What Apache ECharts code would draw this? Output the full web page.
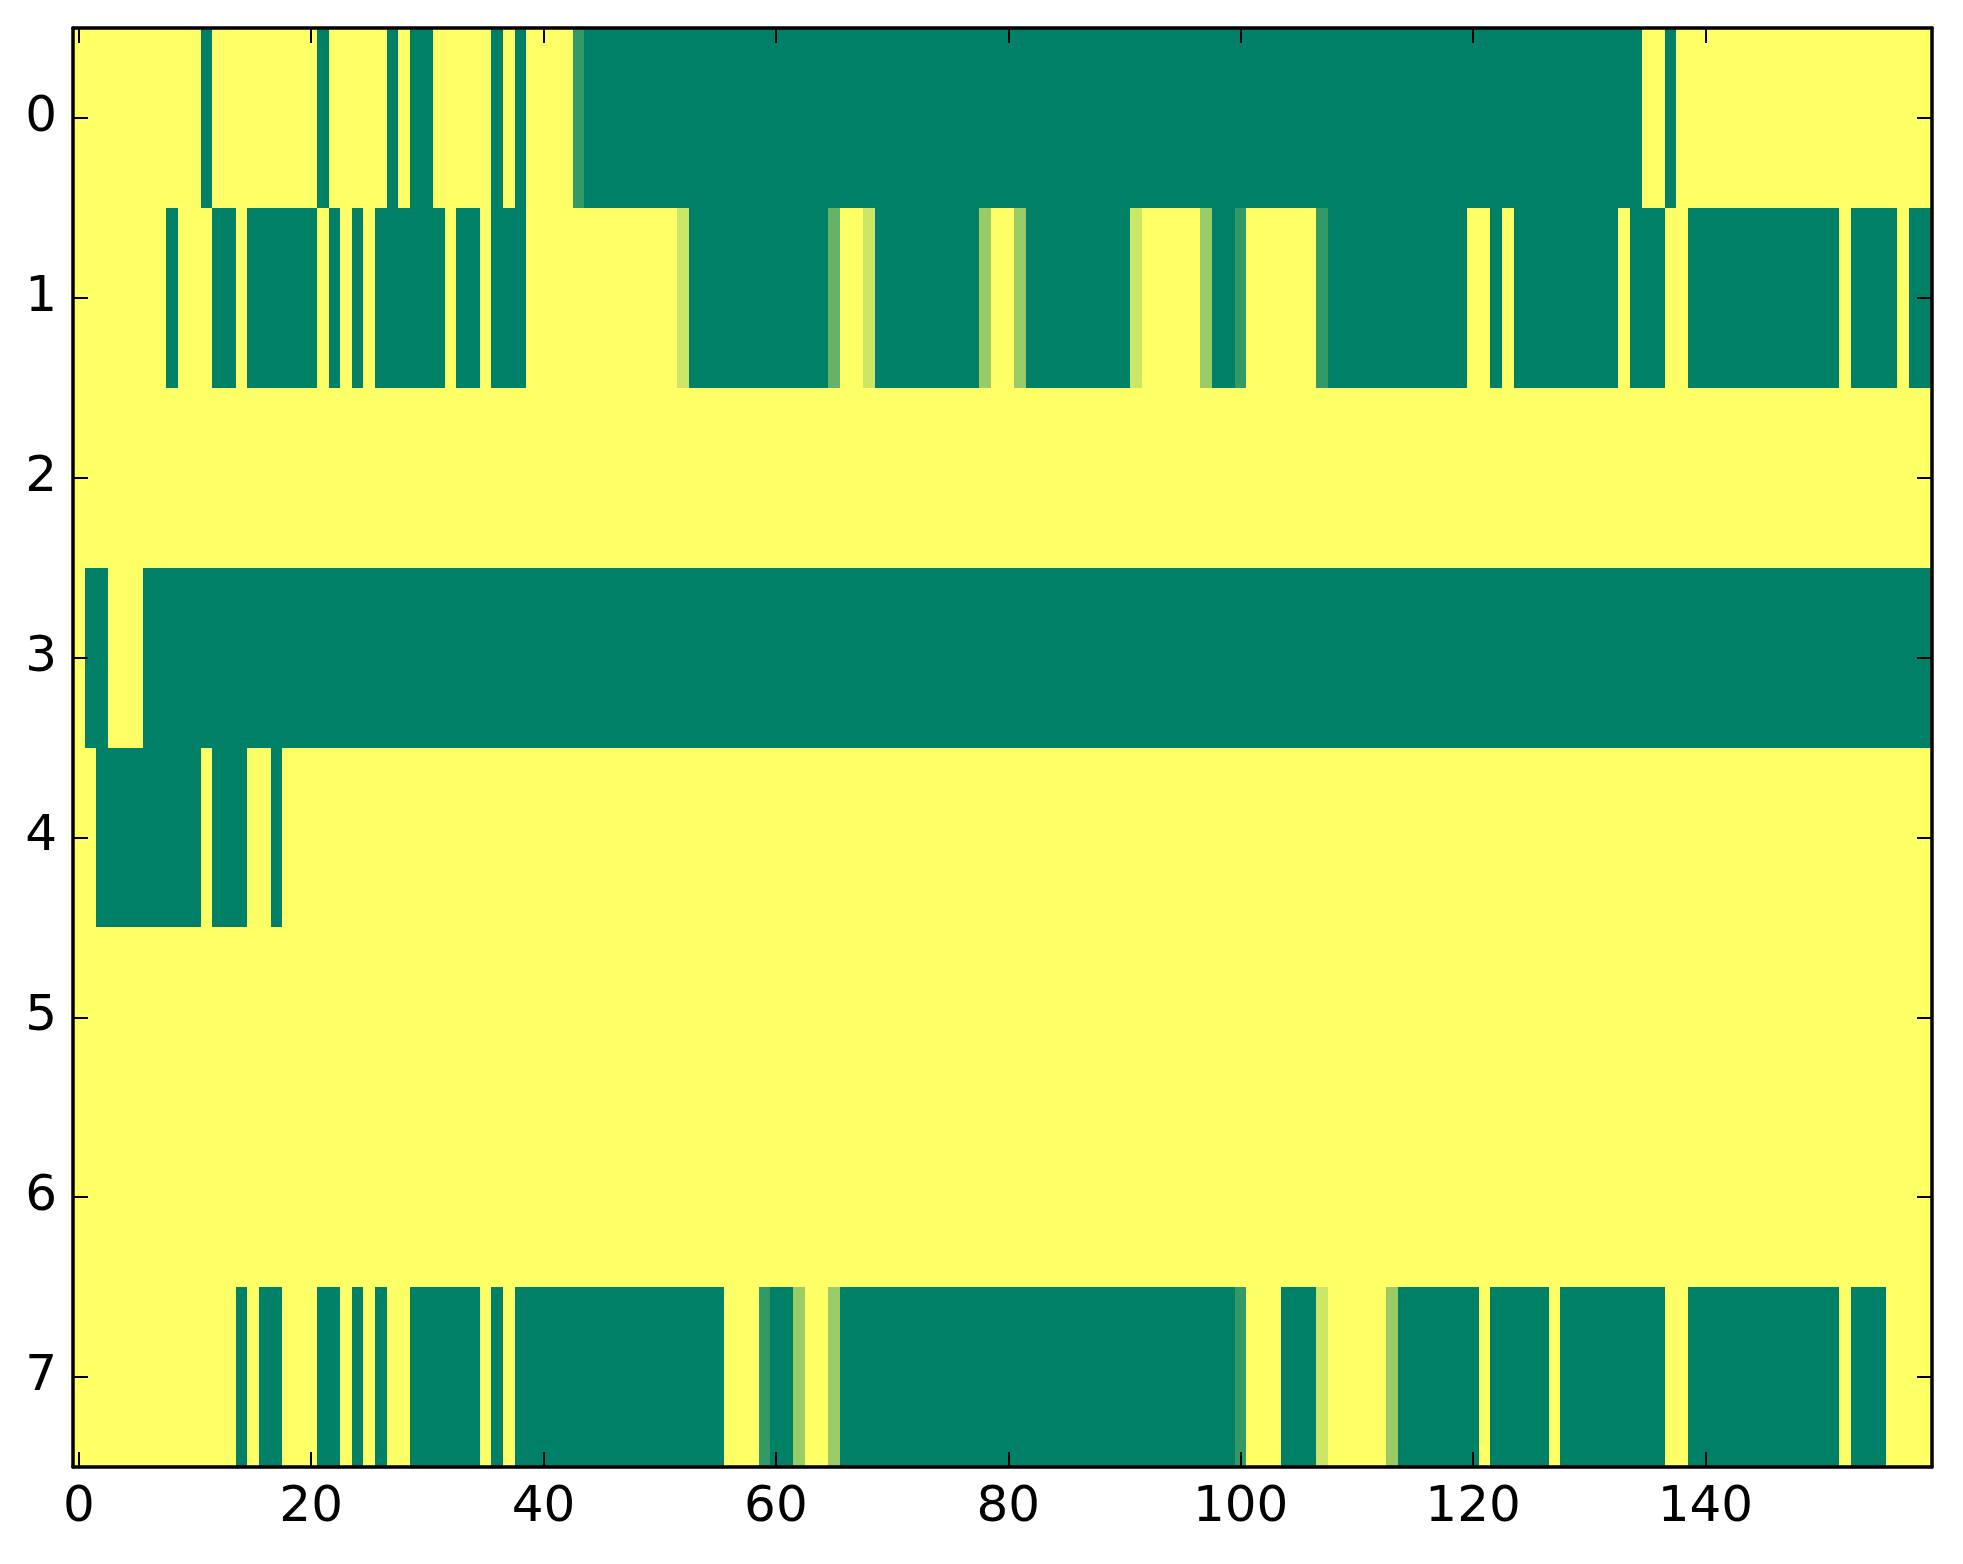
<!DOCTYPE html>
<html>
<head>
<meta charset="utf-8">
<script src="https://cdn.jsdelivr.net/npm/echarts@6/dist/echarts.min.js"></script>
<style>
html,body{margin:0;padding:0;background:#fff;}
#chart{width:1963px;height:1564px;}
</style>
</head>
<body>
<div id="chart"></div>
<script>
// Row values as runs of [value, count] (0 = green, 1 = yellow)
const row0 = [[1,11],[0,1],[1,9],[0,1],[1,5],[0,1],[1,1],[0,2],[1,5],[0,1],[1,1],[0,1],[1,4],[0.2,1],[0,91],[1,2],[0,1],[1,22]];
const row1 = [[1,8],[0,1],[1,3],[0,2],[1,1],[0,6],[1,1],[0,1],[1,1],[0,1],[1,1],[0,6],[1,1],[0,2],[1,1],[0,3],[1,13],[0.8,1],[0,12],[0.4,1],[1,2],[0.8,1],[0,9],[0.6,1],[1,2],[0.6,1],[0,9],[0.8,1],[1,5],[0.6,1],[0,2],[0.2,1],[1,6],[0.2,1],[0,12],[1,2],[0,1],[1,1],[0,9],[1,1],[0,3],[1,2],[0,13],[1,1],[0,4],[1,1],[0,2]];
const row2 = [[1,160]];
const row3 = [[1,1],[0,2],[1,3],[0,154]];
const row4 = [[1,2],[0,9],[1,1],[0,3],[1,2],[0,1],[1,142]];
const row5 = [[1,160]];
const row6 = [[1,160]];
const row7 = [[1,14],[0,1],[1,1],[0,2],[1,3],[0,2],[1,1],[0,1],[1,1],[0,1],[1,2],[0,6],[1,1],[0,1],[1,1],[0,18],[1,3],[0.2,1],[0,2],[0.6,1],[1,2],[0.6,1],[0,34],[0.2,1],[1,3],[0,3],[0.8,1],[1,5],[0.6,1],[0,7],[1,1],[0,5],[1,1],[0,9],[1,2],[0,13],[1,1],[0,3],[1,4]];

const rows = [row0,row1,row2,row3,row4,row5,row6,row7];
const xCategories = Array.from({length:160},(_,i)=>String(i));
const yCategories = ['0','1','2','3','4','5','6','7'];
const xTickStep = 20;

const data = [];
rows.forEach((runs, r) => {
  let c = 0;
  runs.forEach(([v, n]) => {
    for (let k = 0; k < n; k++) { data.push([c, r, v]); c++; }
  });
});

const font = {fontFamily:'DejaVu Sans', fontSize:50, color:'#000'};
const lineStyle = {color:'#000', width:3.5};
const tick = {show:true, inside:true, length:15, lineStyle:{color:'#000', width:2}, alignWithLabel:true};

function renderCell(params, api) {
  const p = api.coord([api.value(0), api.value(1)]);
  const s = api.size([1, 1]);
  const x0 = Math.round(p[0] - s[0] / 2), x1 = Math.round(p[0] + s[0] / 2);
  const y0 = Math.round(p[1] - s[1] / 2), y1 = Math.round(p[1] + s[1] / 2);
  return {
    type:'rect',
    shape:{x:x0, y:y0, width:x1 - x0, height:y1 - y0},
    style:{fill:api.visual('color'), stroke:null, lineWidth:0}
  };
}

const chart = echarts.init(document.getElementById('chart'), null, {renderer:'canvas'});
chart.setOption({
  animation:false,
  backgroundColor:'#fff',
  grid:{left:73, top:28, width:1859, height:1439},
  xAxis:[
    {type:'category', data:xCategories, position:'bottom',
     axisLine:{show:true, onZero:false, lineStyle},
     axisTick:Object.assign({}, tick, {interval:(i)=>i % xTickStep === 0}),
     axisLabel:Object.assign({}, font, {margin:16, interval:(i)=>i % xTickStep === 0}),
     splitLine:{show:false}, z:10},
    {type:'category', data:xCategories, position:'top',
     axisLine:{show:true, onZero:false, lineStyle},
     axisTick:Object.assign({}, tick, {interval:(i)=>i % xTickStep === 0}),
     axisLabel:{show:false, interval:(i)=>i % xTickStep === 0},
     splitLine:{show:false}, z:10}
  ],
  yAxis:[
    {type:'category', data:yCategories, inverse:true, position:'left',
     axisLine:{show:true, onZero:false, lineStyle},
     axisTick:Object.assign({}, tick, {interval:0}),
     axisLabel:Object.assign({}, font, {margin:16, interval:0}),
     splitLine:{show:false}, z:10},
    {type:'category', data:yCategories, inverse:true, position:'right',
     axisLine:{show:true, onZero:false, lineStyle},
     axisTick:Object.assign({}, tick, {interval:0}),
     axisLabel:{show:false},
     splitLine:{show:false}, z:10}
  ],
  visualMap:{show:false, type:'continuous', min:0, max:1, dimension:2, seriesIndex:0,
    inRange:{color:['#008066','#ffff66']}},
  series:[{
    type:'custom', xAxisIndex:0, yAxisIndex:0, data:data,
    encode:{x:0, y:1},
    renderItem:renderCell,
    progressive:0,
    emphasis:{disabled:true},
    z:2
  }]
});
</script>
</body>
</html>
